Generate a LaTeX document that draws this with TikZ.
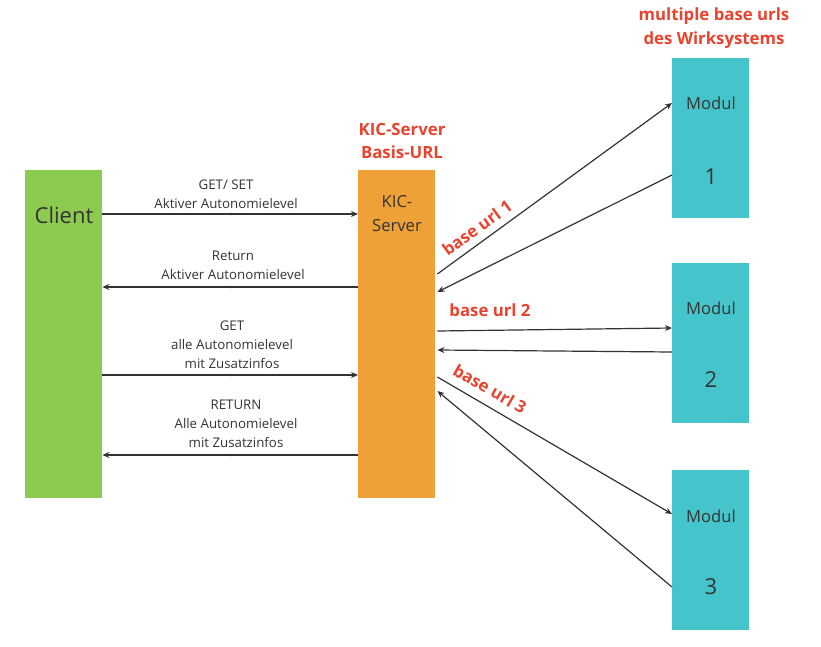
\documentclass[tikz,border=0pt]{standalone}
\usepackage{fontspec}
\setmainfont{Open Sans}
\usepackage{tikz}
\usetikzlibrary{arrows.meta,positioning,calc}

\definecolor{clientgreen}{HTML}{8DCB50}
\definecolor{serverorange}{HTML}{EDA136}
\definecolor{modulteal}{HTML}{45C5CB}
\definecolor{urlred}{HTML}{E8432E}
\definecolor{textgrey}{HTML}{333333}

\begin{document}
\begin{tikzpicture}[
  x=1pt,
  y=-1pt,
  >={Stealth[length=7pt,width=6pt]},
  box/.style={draw=none, minimum width=77pt, inner sep=0pt, anchor=north west},
  msg/.style={draw=textgrey, line width=1.2pt, ->},
  msgtext/.style={font=\fontsize{13.3}{19}\selectfont, text=textgrey, align=center},
  boxtext/.style={font=\fontsize{16.6}{24}\selectfont, text=textgrey, align=center},
  bignum/.style={font=\fontsize{22}{26}\selectfont, text=textgrey},
  redlabel/.style={font=\fontsize{16.8}{23.5}\selectfont\bfseries, text=urlred, align=center},
  middot/.style={circle, fill=textgrey, inner sep=0pt, minimum size=2.6pt}
]
\useasboundingbox (0,0) rectangle (821,647);

% Client and KIC server columns.
\node[box, fill=clientgreen, minimum height=328pt] (client) at (25,170) {};
\node[bignum] (clienttext) at (64,215) {Client};

\node[box, fill=serverorange, minimum height=328pt] (server) at (358,170) {};
\node[boxtext] (servertext) at (397,214) {KIC-\\Server};
\node[redlabel] (serverhead) at (402,141) {KIC-Server\\Basis-URL};

% Messages between client and server.
\draw[msg] (client.east |- 0,214) -- node[middot]{} (server.west |- 0,214);
\node[msgtext] (m1) at (226,194) {GET/ SET\\Aktiver Autonomielevel};

\draw[msg] (server.west |- 0,287) -- node[middot]{} (client.east |- 0,287);
\node[msgtext] (m2) at (233,265) {Return\\Aktiver Autonomielevel};

\draw[msg] (client.east |- 0,375) -- node[middot]{} (server.west |- 0,375);
\node[msgtext] (m3) at (232,345) {GET\\alle Autonomielevel\\mit Zusatzinfos};

\draw[msg] (server.west |- 0,455) -- node[middot]{} (client.east |- 0,455);
\node[msgtext] (m4) at (236,424) {RETURN\\Alle Autonomielevel\\mit Zusatzinfos};

% Modules of the Wirksystem.
\foreach \i/\top/\ya/\yb in {1/58/103/177, 2/263/308/380, 3/470/516/587} {
  \node[box, fill=modulteal, minimum height=160pt] (modul\i) at (672,\top) {};
  \node[boxtext] (modulname\i) at (711,\ya) {Modul};
  \node[bignum] (modulnum\i) at (711,\yb) {\i};
}
\node[redlabel] (modulhead) at (714,28) {multiple base urls\\des Wirksystems};

% base url 1
\draw[msg] ($(server.east |- 0,274)+(2,0)$) -- (modul1.west |- 0,103);
\draw[msg] (modul1.west |- 0,175) -- ($(server.east |- 0,292)+(2,0)$);
\node[redlabel, rotate=36] (url1) at (477,228) {base url 1};

% base url 2
\draw[msg] ($(server.east |- 0,331)+(2,0)$) -- (modul2.west |- 0,328);
\draw[msg] (modul2.west |- 0,352) -- ($(server.east |- 0,350)+(2,0)$);
\node[redlabel] (url2) at (490,310) {base url 2};

% base url 3
\draw[msg] ($(server.east |- 0,377)+(2,0)$) -- (modul3.west |- 0,514);
\draw[msg] (modul3.west |- 0,587) -- ($(server.east |- 0,391)+(2,0)$);
\node[redlabel, rotate=-30] (url3) at (490,389) {base url 3};
\end{tikzpicture}
\end{document}
